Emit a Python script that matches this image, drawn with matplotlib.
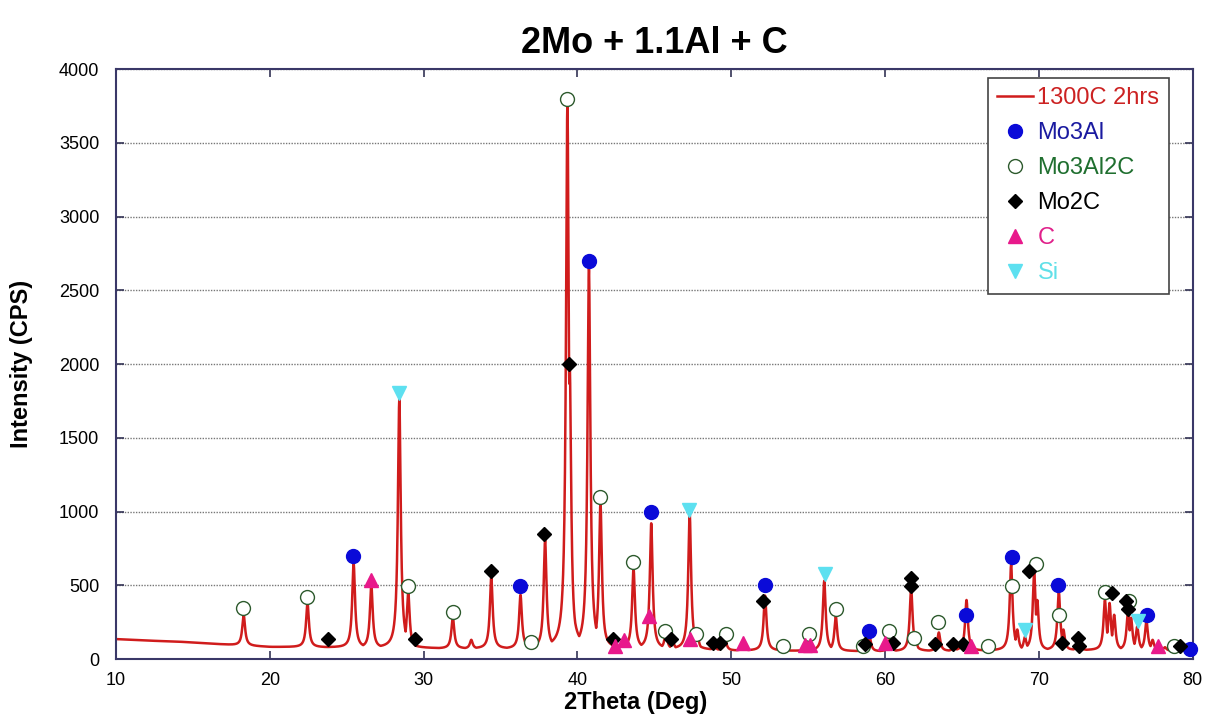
import numpy as np
import matplotlib.pyplot as plt

plt.rcParams['font.family'] = ['Liberation Sans', 'DejaVu Sans']

# baseline of the scan (2theta, counts)
base_x = [10, 12, 14, 16, 18, 20, 25, 30, 35, 40, 45, 50, 55, 60, 65, 70, 75, 80]
base_y = [135, 125, 118, 105, 92, 82, 78, 72, 70, 80, 70, 58, 55, 52, 55, 60, 60, 55]

# peaks: position, top intensity
peak_pos = [18.3, 22.45, 25.45, 26.6, 28.42, 29.0, 31.9, 33.1, 34.4, 36.3,
            37.1, 37.9, 39.35, 39.5, 40.75, 41.5, 42.4, 43.65, 44.8, 45.75,
            46.2, 47.3, 47.8, 48.9, 49.6, 50.8, 52.2, 53.4, 55.0, 56.05,
            56.8, 58.8, 59.0, 60.3, 61.7, 62.0, 63.5, 64.5, 65.3, 66.7,
            68.2, 68.6, 69.1, 69.7, 69.9, 71.3, 71.6, 72.6, 74.3, 74.6,
            74.9, 75.8, 76.0, 76.4, 77.0, 77.4, 78.2, 79.0, 79.8]
peak_top = [300, 380, 650, 500, 1760, 455, 285, 130, 555, 435,
            110, 805, 3780, 2000, 2650, 1060, 100, 615, 920, 180,
            120, 990, 170, 90, 140, 90, 430, 80, 100, 530,
            290, 90, 150, 130, 480, 130, 180, 90, 400, 80,
            640, 200, 150, 590, 400, 460, 200, 120, 400, 380,
            300, 330, 280, 220, 260, 130, 80, 90, 70]

# phase markers
mo3al_x = [25.42, 36.25, 40.73, 44.81, 52.21, 58.94, 65.27, 68.24, 71.27, 77.01, 79.85]
mo3al_y = [695, 495, 2700, 1000, 500, 190, 295, 694, 500, 298, 65]

mo3al2c_x = [18.27, 22.39, 28.99, 31.88, 37.01, 39.33, 41.49, 43.61, 45.72, 47.73,
             49.64, 53.36, 55.09, 56.82, 58.55, 60.24, 61.91, 63.47, 66.68, 68.24,
             69.82, 71.34, 74.33, 75.89, 78.81]
mo3al2c_y = [344, 418, 497, 318, 118, 3800, 1100, 660, 192, 172,
             170, 90, 172, 340, 90, 192, 140, 250, 88, 497,
             645, 300, 456, 395, 88]

mo2c_x = [23.79, 29.43, 34.37, 37.83, 39.43, 42.31, 46.1, 48.8, 49.29, 52.1,
          58.73, 60.5, 61.7, 61.7, 63.22, 64.45, 65.1, 69.34, 71.49, 72.53,
          72.64, 74.76, 75.67, 75.82, 79.2]
mo2c_y = [136, 138, 600, 850, 2000, 136, 136, 106, 106, 395,
          102, 106, 552, 492, 104, 104, 104, 595, 106, 144,
          88, 445, 395, 339, 88]

c_x = [26.61, 42.45, 43.02, 44.65, 47.3, 50.76, 54.8, 55.1, 60.03, 65.6, 77.73]
c_y = [538, 90, 132, 292, 134, 108, 95, 95, 110, 88, 88]

si_x = [28.41, 47.25, 56.07, 69.11, 76.43]
si_y = [1805, 1010, 578, 197, 260]

# build the scan from baseline + peak table (each peak a Lorentzian on the baseline)
tt = np.linspace(10, 80, 7001)
base = np.interp(tt, base_x, base_y)
counts = base.copy()
gam = 0.11
for p, h in zip(peak_pos, peak_top):
    b = np.interp(p, base_x, base_y)
    prof = base + (h - b) * gam**2 / ((tt - p)**2 + gam**2)
    counts = np.maximum(counts, prof)

fig = plt.figure(figsize=(12.11, 7.16), dpi=100)
ax = fig.add_axes([0.0958, 0.0796, 0.889, 0.824])

ax.plot(tt, counts, color='#d01c1c', lw=1.8, label='1300C 2hrs', zorder=2)

ms = 10
ax.plot(mo3al_x, mo3al_y, ls='none', marker='o', ms=ms, mfc='#0a0ad8', mec='#0a0ad8',
        label='Mo3Al', zorder=3, clip_on=False)
ax.plot(mo3al2c_x, mo3al2c_y, ls='none', marker='o', ms=ms, mfc='white', mec='#2d5a2d',
        mew=1.0, label='Mo3Al2C', zorder=3)
ax.plot(mo2c_x, mo2c_y, ls='none', marker='D', ms=7.5, color='black',
        label='Mo2C', zorder=4)
ax.plot(c_x, c_y, ls='none', marker='^', ms=9.5, color='#e8198b', label='C', zorder=4)
ax.plot(si_x, si_y, ls='none', marker='v', ms=9.5, color='#5de0f0', label='Si', zorder=4)

ax.set_xlim(10, 80)
ax.set_ylim(0, 4000)
ax.set_xticks(range(10, 81, 10))
ax.set_yticks(range(0, 4001, 500))
ax.yaxis.grid(True, linestyle=(0, (1, 1)), color='#777777', lw=1.0)
ax.tick_params(direction='in', length=6, width=1.2, color='#333355',
               top=True, right=True, labelsize=13)
ax.tick_params(axis='x', pad=9)
ax.tick_params(axis='y', pad=12)
for s in ax.spines.values():
    s.set_color('#3a3868')
    s.set_linewidth(1.5)

ax.set_xlabel('2Theta (Deg)', fontsize=17, fontweight='bold')
ax.set_ylabel('Intensity (CPS)', fontsize=17, fontweight='bold')
ax.xaxis.set_label_coords(0.483, -0.054)
ax.yaxis.set_label_coords(-0.077, 0.5)
fig.suptitle('2Mo + 1.1Al + C', fontsize=26, fontweight='bold', x=0.54, y=0.963)

leg = ax.legend(loc='upper right', bbox_to_anchor=(0.978, 0.985), borderaxespad=0,
                fontsize=17, frameon=True, fancybox=False, edgecolor='#444444',
                framealpha=1, handlelength=1.5, handletextpad=0.2,
                labelspacing=0.55, borderpad=0.4)
leg.get_frame().set_linewidth(1.2)
for t, c in zip(leg.get_texts(), ['#cc2222', '#1a1aa0', '#1f6f2f', 'black', '#e0208a', '#60e0e8']):
    t.set_color(c)

fig.savefig('out.png', dpi=100)
